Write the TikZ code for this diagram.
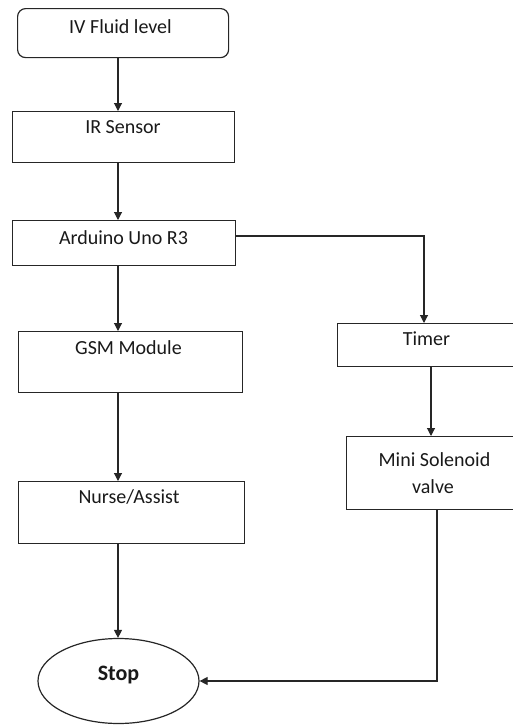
\documentclass[tikz,border=0pt]{standalone}
\usepackage{fontspec}
\setmainfont{Carlito}
\usetikzlibrary{arrows.meta,shapes.geometric}
\begin{document}
\begin{tikzpicture}[x=1pt,y=-1pt,
  box/.style={draw=black!85, line width=1.2pt, inner sep=0pt, anchor=north west},
  lbl/.style={font=\fontsize{20}{24}\selectfont, inner sep=0pt, anchor=base, text=black!90},
  conn/.style={draw=black!85, line width=1.1pt, -{Triangle[length=8pt,width=8pt]}}]
\useasboundingbox (0,0) rectangle (512,726);
% boxes
\node[box, rounded corners=8pt, minimum width=211pt, minimum height=49pt] (iv) at (17,8) {};
\node[box, minimum width=222pt, minimum height=51pt] (ir) at (12,111) {};
\node[box, minimum width=223pt, minimum height=45pt] (ard) at (12,220) {};
\node[box, minimum width=224pt, minimum height=61pt] (gsm) at (18,331) {};
\node[box, minimum width=226pt, minimum height=62pt] (nurse) at (18,481) {};
\node[box, minimum width=179pt, minimum height=43pt] (timer) at (337,323) {};
\node[box, minimum width=177pt, minimum height=73pt] (sol) at (346,436) {};
\node[draw=black!85, line width=1.2pt, ellipse, inner sep=0pt, minimum width=161pt, minimum height=85pt] (stop) at (118.5,681) {};
% labels
\node[lbl] (ivt) at (120.5,33.5) {IV Fluid level};
\node[lbl] (irt) at (123,133) {IR Sensor};
\node[lbl] (ardt) at (123.5,244) {Arduino Uno R3};
\node[lbl] (gsmt) at (128.5,354) {GSM Module};
\node[lbl] (nurset) at (129,503) {Nurse/Assist};
\node[lbl] (timert) at (426.5,345) {Timer};
\node[lbl] (solt1) at (434.5,466) {Mini Solenoid};
\node[lbl] (solt2) at (433,493) {valve};
\node[lbl, font=\fontsize{22}{26}\selectfont\bfseries] (stopt) at (118.5,680) {Stop};
% connectors
\coordinate (cx) at (118,0);
\coordinate (tx) at (424,236);
\coordinate (tsx) at (431,0);
\coordinate (sx) at (437,681);
\draw[conn] (iv.south -| cx) -- (ir.north -| cx);
\draw[conn] (ir.south -| cx) -- (ard.north -| cx);
\draw[conn] (ard.south -| cx) -- (gsm.north -| cx);
\draw[conn] (gsm.south -| cx) -- (nurse.north -| cx);
\draw[conn] (nurse.south -| cx) -- (stop.north -| cx);
\draw[conn] (ard.east |- tx) -- (tx) -- (timer.north -| tx);
\draw[conn] (timer.south -| tsx) -- (sol.north -| tsx);
\draw[conn] (sol.south -| sx) -- (sx) -- (stop.east);
\end{tikzpicture}
\end{document}
